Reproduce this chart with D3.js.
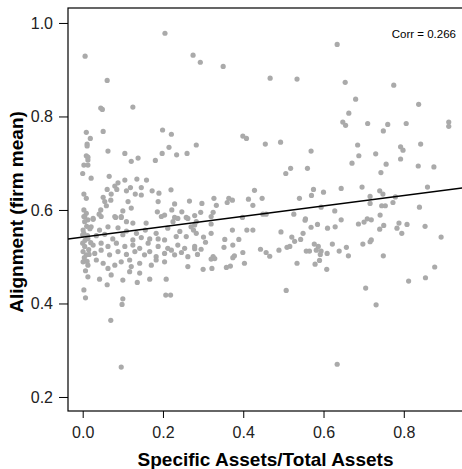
<!DOCTYPE html>
<html>
<head>
<meta charset="utf-8">
<script src="https://cdn.jsdelivr.net/npm/d3@7"></script>
<style>
    body { margin: 0; background: #fff; }
    text { font-family: "Liberation Sans", Arial, sans-serif; }
</style>
</head>
<body>
<div id="chart"></div>
<script>

// firm points: [specific assets / total assets, alignment (firm mean)]
var firmPoints = [
    [0.006,0.929],[0.205,0.978],[0.275,0.931],[0.293,0.916],[0.350,0.907],[0.467,0.882],
    [0.534,0.880],[0.634,0.954],[0.654,0.873],[0.775,0.867],[0.680,0.837],[0.837,0.826],
    [0.061,0.877],[0.045,0.818],[0.049,0.815],[0.125,0.820],[0.663,0.807],[0.648,0.788],
    [0.655,0.781],[0.710,0.785],[0.760,0.783],[0.806,0.785],[0.912,0.788],[0.912,0.779],
    [0.009,0.766],[0.019,0.753],[0.051,0.768],[0.011,0.741],[0.011,0.737],[0.063,0.726],
    [0.009,0.716],[0.013,0.713],[0.013,0.707],[0.003,0.696],[0.013,0.696],[0.000,0.678],
    [0.021,0.668],[0.066,0.672],[0.105,0.721],[0.121,0.704],[0.138,0.711],[0.199,0.771],
    [0.221,0.762],[0.215,0.734],[0.198,0.721],[0.181,0.706],[0.234,0.718],[0.260,0.721],
    [0.283,0.739],[0.088,0.658],[0.105,0.664],[0.135,0.666],[0.159,0.664],[0.080,0.651],
    [0.061,0.644],[0.085,0.644],[0.109,0.641],[0.119,0.648],[0.146,0.648],[0.131,0.634],
    [0.146,0.632],[0.173,0.641],[0.190,0.636],[0.220,0.643],[0.003,0.634],[0.009,0.625],
    [0.051,0.627],[0.071,0.634],[0.055,0.618],[0.070,0.621],[0.113,0.618],[0.059,0.609],
    [0.188,0.618],[0.266,0.619],[0.121,0.604],[0.100,0.598],[0.045,0.600],[0.041,0.591],
    [0.003,0.600],[0.009,0.593],[0.005,0.586],[0.026,0.580],[0.082,0.584],[0.096,0.584],
    [0.186,0.596],[0.204,0.589],[0.229,0.613],[0.222,0.600],[0.247,0.596],[0.229,0.584],
    [0.258,0.584],[0.279,0.588],
    [0.003,0.586],[0.013,0.579],[0.026,0.582],[0.046,0.586],[0.080,0.586],[0.096,0.586],
    [0.109,0.575],[0.125,0.572],[0.158,0.572],[0.196,0.586],[0.225,0.575],[0.237,0.582],
    [0.262,0.582],[0.283,0.575],[0.001,0.557],[0.021,0.564],[0.042,0.557],[0.063,0.564],
    [0.088,0.562],[0.109,0.555],[0.134,0.550],[0.156,0.557],[0.183,0.550],[0.212,0.561],
    [0.242,0.554],[0.270,0.564],[0.000,0.547],[0.013,0.539],[0.034,0.545],[0.055,0.548],
    [0.075,0.538],[0.100,0.547],[0.125,0.536],[0.146,0.541],[0.167,0.538],[0.188,0.538],
    [0.204,0.536],[0.233,0.543],[0.258,0.543],[0.283,0.550],[0.000,0.529],[0.005,0.522],
    [0.026,0.525],[0.046,0.529],[0.063,0.522],[0.084,0.529],[0.105,0.522],[0.125,0.525],
    [0.142,0.518],[0.163,0.529],[0.188,0.522],[0.212,0.518],[0.237,0.525],[0.254,0.518],
    [0.279,0.522],[0.001,0.511],[0.009,0.504],[0.030,0.507],[0.046,0.514],[0.067,0.504],
    [0.088,0.511],[0.109,0.505],[0.130,0.511],[0.154,0.504],[0.167,0.511],[0.183,0.500],
    [0.204,0.507],[0.221,0.514],[0.229,0.504],[0.246,0.509],[0.262,0.500],[0.001,0.489],
    [0.013,0.482],[0.034,0.493],[0.051,0.486],[0.063,0.475],[0.080,0.482],[0.096,0.489],
    [0.117,0.493],[0.121,0.479],[0.142,0.486],[0.171,0.482],[0.183,0.493],[0.204,0.489],
    [0.262,0.479],[0.013,0.457],[0.042,0.452],[0.071,0.461],[0.100,0.450],[0.117,0.468],
    [0.142,0.465],[0.167,0.452],[0.208,0.452],[0.061,0.440],[0.136,0.445],[0.003,0.429],
    [0.007,0.412],[0.100,0.410],[0.098,0.398],[0.207,0.418],[0.219,0.418],[0.070,0.364],
    [0.096,0.264],[0.634,0.270],
    [0.005,0.575],[0.010,0.565],[0.003,0.550],[0.012,0.545],[0.006,0.535],[0.015,0.515],
    [0.004,0.498],[0.011,0.490],[0.007,0.470],[0.016,0.505],[0.020,0.530],[0.018,0.560],
    [0.399,0.758],[0.408,0.753],[0.455,0.741],[0.493,0.745],[0.569,0.726],[0.518,0.689],
    [0.506,0.678],[0.560,0.689],[0.428,0.642],[0.575,0.644],[0.600,0.638],[0.570,0.631],
    [0.540,0.625],[0.297,0.614],[0.327,0.625],[0.364,0.625],[0.373,0.621],[0.360,0.616],
    [0.413,0.623],[0.447,0.625],[0.333,0.610],[0.424,0.610],[0.294,0.595],[0.325,0.595],
    [0.320,0.586],[0.594,0.606],[0.526,0.591],[0.449,0.591],[0.457,0.591],[0.398,0.584],
    [0.555,0.581],
    [0.279,0.568],[0.276,0.557],[0.320,0.570],[0.320,0.550],[0.373,0.557],[0.409,0.557],
    [0.424,0.557],[0.494,0.553],[0.554,0.578],[0.569,0.563],[0.585,0.569],[0.610,0.561],
    [0.549,0.550],[0.301,0.542],[0.306,0.531],[0.354,0.537],[0.389,0.537],[0.374,0.525],
    [0.352,0.520],[0.521,0.542],[0.528,0.533],[0.543,0.537],[0.279,0.517],[0.295,0.516],
    [0.286,0.505],[0.399,0.509],[0.443,0.516],[0.457,0.509],[0.466,0.501],[0.489,0.514],
    [0.509,0.520],[0.516,0.522],[0.557,0.512],[0.565,0.512],[0.577,0.527],[0.587,0.522],
    [0.582,0.514],[0.594,0.512],[0.592,0.505],[0.609,0.507],[0.622,0.527],[0.378,0.502],
    [0.374,0.498],[0.325,0.500],[0.320,0.495],[0.329,0.496],[0.590,0.492],[0.403,0.486],
    [0.534,0.486],[0.579,0.484],[0.358,0.477],[0.368,0.480],[0.300,0.473],[0.322,0.475],
    [0.608,0.473],[0.507,0.428],
    [0.749,0.769],[0.685,0.739],[0.688,0.716],[0.671,0.700],[0.730,0.720],[0.792,0.735],
    [0.798,0.728],[0.842,0.741],[0.756,0.698],[0.792,0.709],[0.743,0.680],[0.836,0.694],
    [0.875,0.692],[0.644,0.646],[0.696,0.649],[0.740,0.641],[0.748,0.634],[0.716,0.629],
    [0.859,0.649],[0.779,0.628],[0.716,0.614],[0.773,0.616],[0.745,0.609],[0.754,0.609],
    [0.839,0.606],[0.628,0.598],[0.741,0.589],[0.644,0.579],[0.709,0.581],[0.719,0.579],
    [0.701,0.574],[0.687,0.570],[0.750,0.567],[0.788,0.572],[0.808,0.569],[0.629,0.564],
    [0.740,0.559],[0.783,0.561],[0.795,0.550],[0.853,0.565],[0.893,0.542],[0.719,0.536],
    [0.716,0.532],[0.698,0.527],[0.639,0.512],[0.657,0.520],[0.662,0.502],[0.749,0.502],
    [0.877,0.478],[0.854,0.455],[0.812,0.448],[0.705,0.433],[0.731,0.397]
];

// fitted line
var fitIntercept = 0.542;
var fitSlope = 0.111;
var corrLabel = 'Corr = 0.266';

var xTicks = [ 0, 0.2, 0.4, 0.6, 0.8 ];
var yTicks = [ 0.2, 0.4, 0.6, 0.8, 1.0 ];
var xTitle = 'Specific Assets/Total Assets';
var yTitle = 'Alignment (firm mean)';

var width = 462,
    height = 469,
    plotLeft = 68,
    plotRight = 463,
    plotTop = 8,
    plotBottom = 411;

var x = d3.scaleLinear()
    .domain([ -0.0366, 0.9475 ])
    .range([ plotLeft, plotRight ]);

var y = d3.scaleLinear()
    .domain([ 0.170, 1.032 ])
    .range([ plotBottom, plotTop ]);

var svg = d3.select('#chart').append('svg')
    .attr('width', width)
    .attr('height', height);

svg.append('defs').append('clipPath')
    .attr('id', 'plot-clip')
    .append('rect')
    .attr('x', plotLeft)
    .attr('y', plotTop)
    .attr('width', plotRight - plotLeft)
    .attr('height', plotBottom - plotTop);

// points
svg.append('g')
    .selectAll('circle')
    .data( firmPoints )
    .enter().append('circle')
    .attr('cx', function ( d ) { return x( d[0] ) })
    .attr('cy', function ( d ) { return y( d[1] ) })
    .attr('r', 2.6)
    .style('fill', '#aaaaaa');

// regression line
var xd = x.domain();

svg.append('line')
    .attr('clip-path', 'url(#plot-clip)')
    .attr('x1', x( xd[0] ))
    .attr('y1', y( fitIntercept + fitSlope * xd[0] ))
    .attr('x2', x( xd[1] ))
    .attr('y2', y( fitIntercept + fitSlope * xd[1] ))
    .style('stroke', '#000')
    .style('stroke-width', 1.4);

// box
svg.append('rect')
    .attr('x', plotLeft)
    .attr('y', plotTop)
    .attr('width', plotRight - plotLeft)
    .attr('height', plotBottom - plotTop)
    .style('fill', 'none')
    .style('stroke', '#000')
    .style('stroke-width', 1.2);

// axes
var xAxis = svg.append('g')
    .attr('transform', 'translate(0,' + plotBottom + ')')
    .call( d3.axisBottom( x ).tickValues( xTicks ).tickSize( 7 ).tickPadding( 9 ).tickFormat( d3.format('.1f') ) );

var yAxis = svg.append('g')
    .attr('transform', 'translate(' + plotLeft + ',0)')
    .call( d3.axisLeft( y ).tickValues( yTicks ).tickSize( 9 ).tickPadding( 6 ).tickFormat( d3.format('.1f') ) );

[ xAxis, yAxis ].forEach( function ( a ) {
    a.select('.domain').remove();
    a.selectAll('line').style('stroke', '#000');
    a.selectAll('text')
        .style('font-family', '"Liberation Sans", Arial, sans-serif')
        .style('font-size', '16px')
        .style('fill', '#222');
});

// titles
svg.append('text')
    .attr('x', 265.5)
    .attr('y', 466)
    .attr('text-anchor', 'middle')
    .style('font-size', '19px')
    .style('font-weight', 'bold')
    .text( xTitle );

svg.append('text')
    .attr('transform', 'translate(23,212) rotate(-90)')
    .attr('text-anchor', 'middle')
    .style('font-size', '19px')
    .style('font-weight', 'bold')
    .text( yTitle );

svg.append('text')
    .attr('x', 456)
    .attr('y', 38)
    .attr('text-anchor', 'end')
    .style('font-size', '11.5px')
    .text( corrLabel );

</script>
</body>
</html>
